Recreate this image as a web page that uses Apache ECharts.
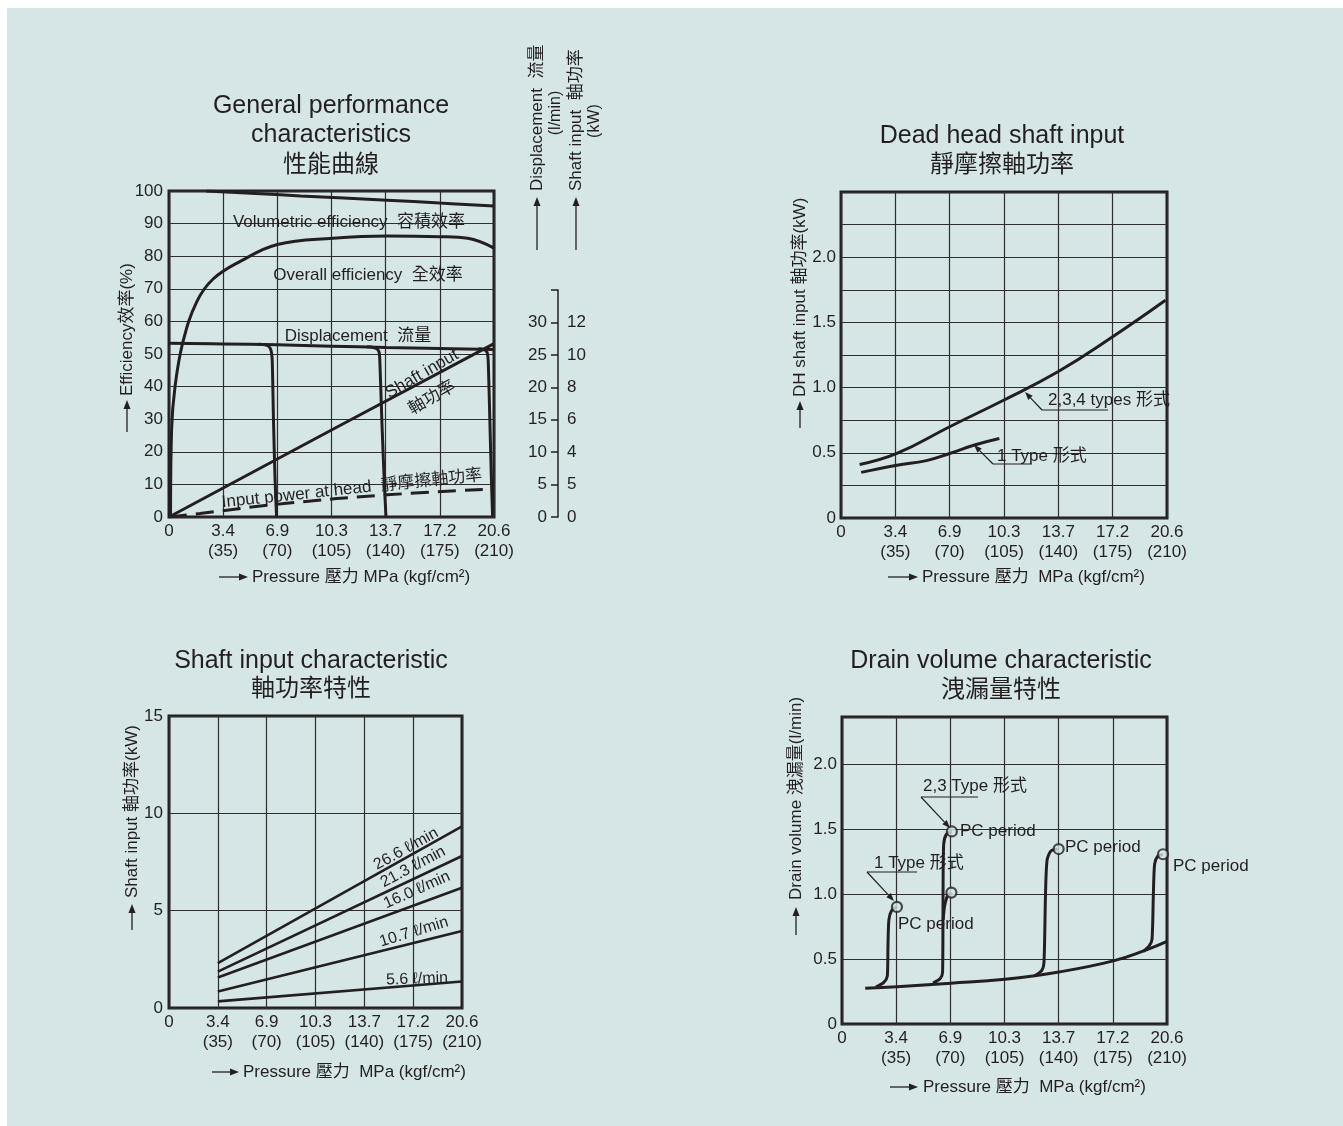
<!DOCTYPE html>
<html>
<head>
<meta charset="utf-8">
<script src="https://cdn.jsdelivr.net/npm/echarts@6/dist/echarts.min.js"></script>
<style>
html,body{margin:0;padding:0;background:#ffffff;}
#panel{position:absolute;left:7px;top:8px;width:1336px;height:1118px;background:#d6e6e6;}
#chart{position:absolute;left:0;top:0;width:1343px;height:1126px;}
</style>
</head>
<body>
<div id="panel"></div>
<div id="chart"></div>
<script>
// ---------- shared pressure axis ----------
const pressureKgf = [0, 35, 70, 105, 140, 175, 210];
const pressureMPa = ['0', '3.4', '6.9', '10.3', '13.7', '17.2', '20.6'];

// ---------- General performance characteristics (x: kgf/cm2, y: left scale %) ----------
const volEff = [[24,100],[85,98.5],[141,97.2],[175,96.3],[210,95.4]];
const overallEff = [[1,0],[1.7,27],[3.9,40],[9,53.7],[17.9,66],[28.5,73],[46,78.4],[70,83.6],[106,85.5],[141,86.2],[175,86],[193,85.5],[210,82.5]];
const dispMain = [[0,53.3],[35,53.1],[70,52.8],[105,52.4],[140,52.0],[175,51.7],[210,51.4]];
const dispCut70 = [[58,53],[62,52.8],[64.5,52.3],[66,51],[66.7,48],[67.5,30],[68.5,12],[69.5,0]];
const dispCut140 = [[128,52.2],[132,52.0],[134.5,51.5],[135.8,50.5],[136.3,47],[137.5,30],[139,12],[140.2,0]];
const dispCut210 = [[200,51.6],[203,51.4],[205,51],[206,49.5],[206.4,46],[207.3,30],[208.3,12],[209.1,0]];
const shaftInput = [[0,0],[105,26.7],[210,53.2]];
const headPower = [[0,0],[20,1.1],[76,4.2],[141,6.8],[210,8.6]];
const dispAxisTicks = ['0','5','10','15','20','25','30'];
const shaftAxisTicks = ['0','5','4','6','8','10','12'];

// ---------- Dead head shaft input (kW) ----------
const dhTypes234 = [[12,0.41],[36,0.495],[70,0.70],[105,0.905],[140,1.123],[175,1.39],[209,1.67]];
const dhType1 = [[13,0.35],[36,0.405],[55,0.44],[70,0.495],[86,0.56],[102,0.61]];

// ---------- Shaft input characteristic (kW) ----------
const flowLabels = ['26.6', '21.3', '16.0', '10.7', '5.6'];
const flowShaftAt35 = [2.30, 1.87, 1.57, 0.85, 0.34];
const flowShaftAt210 = [9.33, 7.81, 6.18, 3.96, 1.36];

// ---------- Drain volume characteristic (l/min) ----------
const drainBase = [[15,0.275],[35.5,0.287],[70.4,0.313],[105.3,0.344],[140.2,0.40],[175.3,0.485],[196.7,0.57],[210,0.635]];
const pcRise35 = [[22,0.285],[27,0.32],[29.3,0.37],[29.7,0.6],[30.3,0.8],[32,0.87],[35.5,0.9]];
const pcRise70 = [[58.8,0.315],[63.5,0.35],[65,0.4],[65.3,1.0],[65.7,1.38],[67.5,1.46],[71,1.48]];
const pcBranch70 = [[65.4,0.8],[66.2,0.9],[68,0.98],[70.7,1.01]];
const pcRise140 = [[124.5,0.37],[129,0.41],[130.5,0.47],[131.5,1.0],[132.5,1.26],[135,1.33],[140,1.345]];
const pcRise210 = [[194.5,0.556],[198.5,0.6],[200.3,0.65],[201.2,1.0],[202,1.23],[204,1.29],[207.4,1.305]];

// ---------- styling ----------
const INK = '#231f20';
const FONT = "'Liberation Sans', Arial, 'Noto Sans CJK TC', sans-serif";
const GRIDLINE = {show: true, lineStyle: {color: '#2e2e2e', width: 1.2}};

function xFmt(v) {
  const i = pressureKgf.indexOf(v);
  if (i < 0) return '';
  return i === 0 ? '0' : pressureMPa[i] + '\n(' + pressureKgf[i] + ')';
}
function mkX(g) {
  return {gridIndex: g, type: 'value', min: 0, max: 210, interval: 35,
    axisLine: {show: false}, axisTick: {show: false}, splitLine: GRIDLINE,
    axisLabel: {formatter: xFmt, color: INK, fontSize: 17, fontFamily: FONT, lineHeight: 20, margin: 4}};
}
function mkY(g, max, interval, fmt, margin) {
  return {gridIndex: g, type: 'value', min: 0, max: max, interval: interval,
    axisLine: {show: false}, axisTick: {show: false}, splitLine: GRIDLINE,
    axisLabel: {formatter: fmt, color: INK, fontSize: 17, fontFamily: FONT, margin: margin}};
}
function halfFmt(v) {
  const k = Math.round(v * 2);
  if (Math.abs(v * 2 - k) > 1e-6 || v > 2.0001) return '';
  return v === 0 ? '0' : v.toFixed(1);
}
function line(xi, data, opts) {
  opts = opts || {};
  return {type: 'line', xAxisIndex: xi, yAxisIndex: xi, data: data, symbol: 'none',
    silent: true, smooth: opts.smooth === undefined ? 0.45 : opts.smooth,
    lineStyle: {color: INK, width: opts.width || 3, type: opts.dash || 'solid'}, z: 5};
}

// graphic helpers
function txt(x, y, s, o) {
  o = o || {};
  const al = o.align || 'center', va = o.va || 'middle';
  return {type: 'text', x: x, y: y, rotation: (o.rot || 0) * Math.PI / 180, silent: true, z: 20,
    style: {text: s, fill: INK, font: (o.size || 17) + 'px ' + FONT,
      align: al, verticalAlign: va, textAlign: al, textVerticalAlign: va}};
}
function seg(x1, y1, x2, y2, w) {
  return {type: 'line', silent: true, z: 20, shape: {x1: x1, y1: y1, x2: x2, y2: y2},
    style: {stroke: INK, lineWidth: w || 1.2}};
}
function arrow(x1, y1, x2, y2, hl, hw, w) {
  hl = hl || 9; hw = hw || 3.5;
  const a = Math.atan2(y2 - y1, x2 - x1);
  const bx = x2 - hl * Math.cos(a), by = y2 - hl * Math.sin(a);
  const px = -Math.sin(a) * hw, py = Math.cos(a) * hw;
  return [seg(x1, y1, bx, by, w || 1.3),
    {type: 'polygon', silent: true, z: 20, shape: {points: [[x2, y2], [bx + px, by + py], [bx - px, by - py]]},
      style: {fill: INK}}];
}

const gfx = [];
// titles
gfx.push(txt(331, 106, 'General performance', {size: 25}));
gfx.push(txt(331, 135, 'characteristics', {size: 25}));
gfx.push(txt(331, 165, '性能曲線', {size: 24}));
gfx.push(txt(1002, 136, 'Dead head shaft input', {size: 25}));
gfx.push(txt(1002, 165, '靜摩擦軸功率', {size: 24}));
gfx.push(txt(311, 661, 'Shaft input characteristic', {size: 25}));
gfx.push(txt(311, 689, '軸功率特性', {size: 24}));
gfx.push(txt(1001, 661, 'Drain volume characteristic', {size: 25}));
gfx.push(txt(1001, 690, '洩漏量特性', {size: 24}));

// y axis titles (rotated) with arrows
gfx.push(...arrow(127, 432, 127, 400));
gfx.push(txt(127, 396, 'Efficiency效率(%)', {rot: 90, align: 'left', size: 17}));
gfx.push(...arrow(800, 428, 800, 401));
gfx.push(txt(800, 397, 'DH shaft input 軸功率(kW)', {rot: 90, align: 'left', size: 17}));
gfx.push(...arrow(132, 930, 132, 904));
gfx.push(txt(132, 898, 'Shaft input 軸功率(kW)', {rot: 90, align: 'left', size: 17}));
gfx.push(...arrow(796, 935, 796, 907));
gfx.push(txt(796, 900, 'Drain volume 洩漏量(l/min)', {rot: 90, align: 'left', size: 17}));

// x axis titles
gfx.push(...arrow(219, 577, 248, 577));
gfx.push(txt(252, 577, 'Pressure 壓力 MPa (kgf/cm²)', {align: 'left', size: 17}));
gfx.push(...arrow(888, 577, 918, 577));
gfx.push(txt(922, 577, 'Pressure 壓力  MPa (kgf/cm²)', {align: 'left', size: 17}));
gfx.push(...arrow(212, 1072, 239, 1072));
gfx.push(txt(243, 1072, 'Pressure 壓力  MPa (kgf/cm²)', {align: 'left', size: 17}));
gfx.push(...arrow(890, 1087, 918, 1087));
gfx.push(txt(923, 1087, 'Pressure 壓力  MPa (kgf/cm²)', {align: 'left', size: 17}));

// right axis titles of chart 1
gfx.push(...arrow(537, 250, 537, 197));
gfx.push(txt(537, 191, 'Displacement  流量', {rot: 90, align: 'left', size: 17}));
gfx.push(txt(556, 113, '(l/min)', {rot: 90, size: 16}));
gfx.push(...arrow(576, 250, 576, 197));
gfx.push(txt(576, 191, 'Shaft input  軸功率', {rot: 90, align: 'left', size: 17}));
gfx.push(txt(595, 121, '(kW)', {rot: 90, size: 16}));

// chart 1 annotations
gfx.push(txt(349, 222, 'Volumetric efficiency  容積效率'));
gfx.push(txt(368, 275, 'Overall efficiency  全效率'));
gfx.push(txt(358, 336, 'Displacement  流量'));
gfx.push(txt(422, 374, 'Shaft input', {rot: 30}));
gfx.push(txt(432, 398, '軸功率', {rot: 30}));
gfx.push(txt(352, 489, 'Input power at head  靜摩擦軸功率', {rot: 6}));

// chart 2 annotations
gfx.push(txt(1048, 400, '2,3,4 types 形式', {align: 'left'}));
gfx.push(seg(1042, 410, 1108, 410));
gfx.push(...arrow(1042, 410, 1025, 392, 8, 3, 1.2));
gfx.push(txt(997, 456, '1 Type 形式', {align: 'left'}));
gfx.push(seg(993, 464, 1032, 464));
gfx.push(...arrow(993, 464, 974, 445, 8, 3, 1.2));

// chart 3 annotations
const flowLabelPos = [[406, 849, 29], [413, 867, 28], [417, 890, 24], [414, 932, 17], [417, 979, 2]];
flowLabels.forEach(function (f, i) {
  const p = flowLabelPos[i];
  gfx.push(txt(p[0], p[1], f + ' ℓ/min', {rot: p[2], size: 16}));
});

// chart 4 annotations
gfx.push(txt(923, 786, '2,3 Type 形式', {align: 'left'}));
gfx.push(seg(921, 797, 978, 797));
gfx.push(...arrow(921, 797, 950, 828, 8, 3, 1.2));
gfx.push(txt(874, 863, '1 Type 形式', {align: 'left'}));
gfx.push(seg(867, 872, 917, 872));
gfx.push(...arrow(867, 872, 894, 901, 8, 3, 1.2));
gfx.push(txt(960, 831, 'PC period', {align: 'left'}));
gfx.push(txt(898, 924, 'PC period', {align: 'left'}));
gfx.push(txt(1065, 847, 'PC period', {align: 'left'}));
gfx.push(txt(1173, 866, 'PC period', {align: 'left'}));

const border = {show: true, borderColor: INK, borderWidth: 3, backgroundColor: 'transparent'};

const flowSeries = flowLabels.map(function (f, i) {
  return line(2, [[35, flowShaftAt35[i]], [210, flowShaftAt210[i]]], {smooth: false, width: 2.6});
});

const pcCurves = [pcRise35, pcRise70, pcBranch70, pcRise140, pcRise210];
const pcPoints = pcCurves.map(function (a) { return a[a.length - 1]; });

const option = {
  animation: false,
  backgroundColor: 'transparent',
  textStyle: {fontFamily: FONT, color: INK},
  grid: [
    Object.assign({left: 169, top: 191, width: 325, height: 326}, border),
    Object.assign({left: 841, top: 192, width: 326, height: 326}, border),
    Object.assign({left: 169, top: 716, width: 293, height: 292}, border),
    Object.assign({left: 842, top: 717, width: 325, height: 307}, border),
    {left: 558, top: 290, width: 1, height: 227, show: false}
  ],
  xAxis: [mkX(0), mkX(1), mkX(2), mkX(3), {gridIndex: 4, type: 'value', min: 0, max: 1, show: false}],
  yAxis: [
    mkY(0, 100, 10, function (v) { return String(v); }, 6),
    mkY(1, 2.5, 0.25, halfFmt, 5),
    mkY(2, 15, 5, function (v) { return String(v); }, 6),
    mkY(3, 2.36, 0.5, halfFmt, 5),
    {gridIndex: 4, type: 'value', min: 0, max: 35, interval: 5, position: 'left',
      axisLine: {show: true, lineStyle: {color: INK, width: 1.5}},
      axisTick: {show: true, length: 7, lineStyle: {color: INK, width: 1.5}},
      splitLine: {show: false},
      axisLabel: {color: INK, fontSize: 17, fontFamily: FONT, margin: 11,
        formatter: function (v) { const i = Math.round(v / 5); return (Math.abs(v - i * 5) < 1e-6 && i < dispAxisTicks.length) ? dispAxisTicks[i] : ''; }}},
    {gridIndex: 4, type: 'value', min: 0, max: 35, interval: 5, position: 'right',
      axisLine: {show: false}, axisTick: {show: false}, splitLine: {show: false},
      axisLabel: {color: INK, fontSize: 17, fontFamily: FONT, margin: 8,
        formatter: function (v) { const i = Math.round(v / 5); return (Math.abs(v - i * 5) < 1e-6 && i < shaftAxisTicks.length) ? shaftAxisTicks[i] : ''; }}}
  ],
  graphic: {elements: gfx},
  series: [
    line(0, volEff),
    line(0, overallEff, {smooth: 0.4}),
    line(0, dispMain),
    line(0, dispCut70, {smooth: 0.25}),
    line(0, dispCut140, {smooth: 0.25}),
    line(0, dispCut210, {smooth: 0.25}),
    line(0, shaftInput, {smooth: false}),
    line(0, headPower, {dash: [18, 9], width: 3}),
    line(1, dhTypes234),
    line(1, dhType1),
    ...flowSeries,
    line(3, drainBase),
    line(3, pcRise35, {smooth: 0.25}),
    line(3, pcRise70, {smooth: 0.25}),
    line(3, pcBranch70, {smooth: 0.25}),
    line(3, pcRise140, {smooth: 0.25}),
    line(3, pcRise210, {smooth: 0.25}),
    {type: 'scatter', xAxisIndex: 3, yAxisIndex: 3, data: pcPoints, symbol: 'circle', symbolSize: 10, silent: true, z: 8,
      itemStyle: {color: '#d6e6e6', borderColor: INK, borderWidth: 2.2}}
  ]
};

const chart = echarts.init(document.getElementById('chart'), null, {renderer: 'canvas'});
chart.setOption(option);
</script>
</body>
</html>
